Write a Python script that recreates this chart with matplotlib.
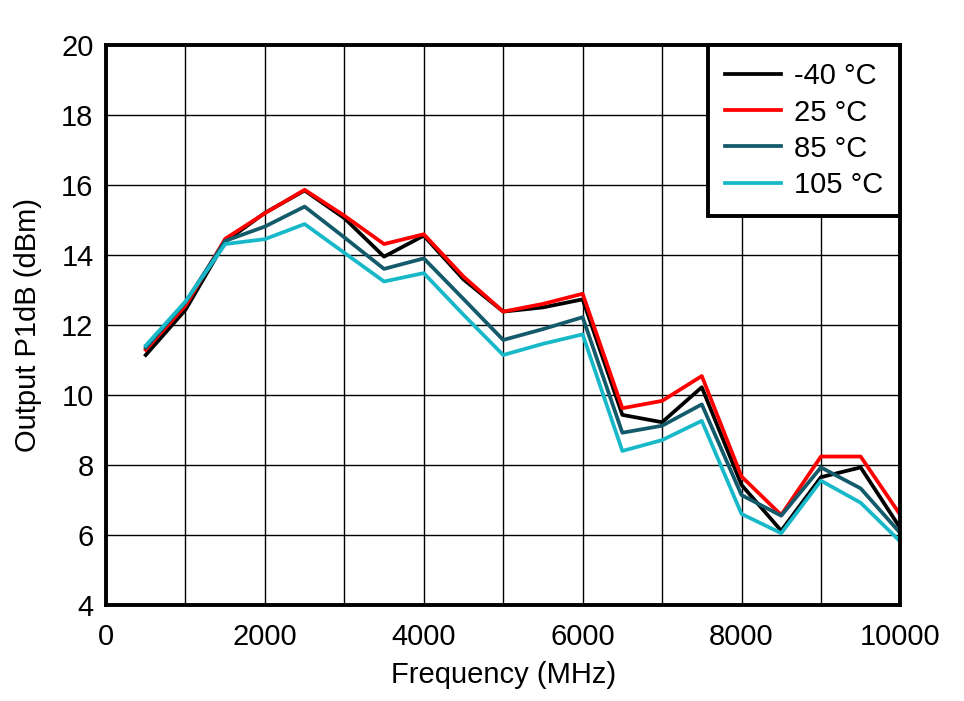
import numpy as np
import matplotlib.pyplot as plt
from matplotlib.ticker import MultipleLocator

plt.rcParams['font.family'] = ['Liberation Sans', 'DejaVu Sans']

freq = [500, 1000, 1500, 2000, 2500, 3000, 3500, 4000, 4500, 5000,
        5500, 6000, 6500, 7000, 7500, 8000, 8500, 9000, 9500, 10000]

p_m40 = [11.14, 12.43, 14.38, 15.2, 15.84, 15.05, 13.95, 14.55, 13.3, 12.38,
         12.5, 12.73, 9.43, 9.22, 10.22, 7.43, 6.12, 7.65, 7.93, 6.19]
p_25 = [11.29, 12.55, 14.46, 15.19, 15.86, 15.12, 14.31, 14.59, 13.38, 12.38,
        12.6, 12.89, 9.62, 9.83, 10.54, 7.67, 6.57, 8.24, 8.24, 6.57]
p_85 = [11.35, 12.65, 14.4, 14.81, 15.38, 14.5, 13.6, 13.9, 12.74, 11.57,
        11.88, 12.22, 8.92, 9.12, 9.73, 7.14, 6.55, 7.93, 7.33, 6.05]
p_105 = [11.41, 12.67, 14.31, 14.45, 14.88, 14.06, 13.24, 13.48, 12.29, 11.14,
         11.46, 11.73, 8.4, 8.71, 9.26, 6.6, 6.05, 7.55, 6.92, 5.81]

labels = ['-40 °C', '25 °C', '85 °C', '105 °C']
colors = ['#000000', '#ff0000', '#135a6b', '#17b9c9']

fig = plt.figure(figsize=(9.64, 7.01), dpi=100)
ax = fig.add_axes([0.110, 0.137, 0.824, 0.799])

for y, lab, c in zip([p_m40, p_25, p_85, p_105], labels, colors):
    ax.plot(freq, y, color=c, lw=2.7, label=lab)

ax.set_xlim(0, 10000)
ax.set_ylim(4, 20)
ax.xaxis.set_major_locator(MultipleLocator(2000))
ax.xaxis.set_minor_locator(MultipleLocator(1000))
ax.yaxis.set_major_locator(MultipleLocator(2))
ax.grid(True, which='both', color='black', lw=1)
ax.tick_params(which='both', length=0, labelsize=21)
ax.tick_params(axis='x', pad=13)
ax.tick_params(axis='y', pad=9)
for s in ax.spines.values():
    s.set_linewidth(2.8)

ax.set_xlabel('Frequency (MHz)', fontsize=21, labelpad=7)
ax.set_ylabel('Output P1dB (dBm)', fontsize=21, labelpad=14)

leg = ax.legend(loc='upper right', fontsize=21, fancybox=False, framealpha=1,
                edgecolor='black', borderaxespad=0, handlelength=1.9,
                handletextpad=0.45, labelspacing=0.28, borderpad=0.6)
leg.get_frame().set_linewidth(2.8)

fig.savefig('out.png')
